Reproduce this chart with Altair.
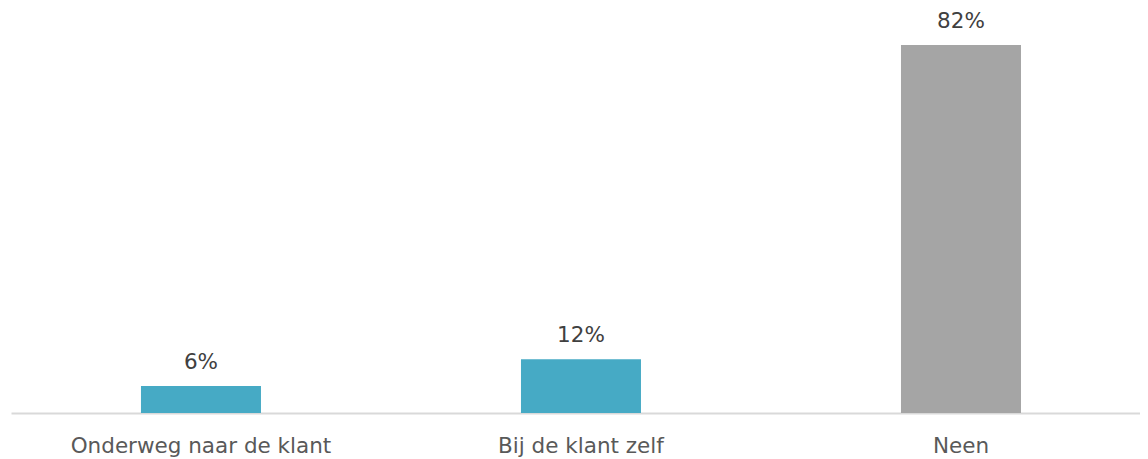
import altair as alt
import pandas as pd

categories = ["Onderweg naar de klant", "Bij de klant zelf", "Neen"]
values = [6, 12, 82]
labels = ["6%", "12%", "82%"]
colors = ["#46AAC5", "#46AAC5", "#A5A5A5"]

df = pd.DataFrame({"cat": categories, "val": values, "lab": labels, "col": colors})

x = alt.X("cat:N", sort=categories, title=None,
          scale=alt.Scale(paddingInner=0.684, paddingOuter=0.3275, align=0.522),
          axis=alt.Axis(labelAngle=0, labelFontSize=21.5, labelColor="#595959",
                        labelFont="DejaVu Sans", labelPadding=39, labelBaseline="alphabetic",
                        ticks=False, domainColor="#D9D9D9", domainWidth=2, labelLimit=400))
y = alt.Y("val:Q", scale=alt.Scale(domain=[0, 90]), axis=None)

bars = alt.Chart(df).mark_bar(size=120).encode(
    x=x, y=y, color=alt.Color("col:N", scale=None))
text = alt.Chart(df).mark_text(baseline="alphabetic", dy=-17, fontSize=21.5,
                               font="DejaVu Sans", color="#404040").encode(
    x=alt.X("cat:N", sort=categories), y="val:Q", text="lab:N")

chart = (bars + text).properties(
    width=1129, height=404,
    padding={"left": 3, "top": 1, "right": 0, "bottom": 50},
    autosize=alt.AutoSizeParams(type="none"),
).configure_view(stroke=None)

chart.save("out.html", embed_options={"renderer": "svg", "actions": False})
